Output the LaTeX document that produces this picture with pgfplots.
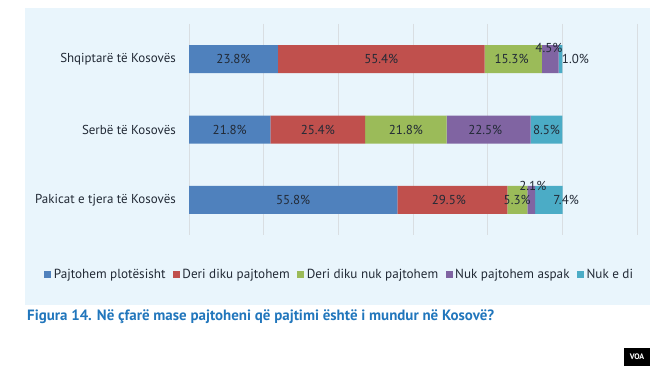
\documentclass[border=0pt]{standalone}
\usepackage{fontspec}
\setmainfont{PT Sans}
\usepackage{pgfplots}
\pgfplotsset{compat=1.18}
\definecolor{c1}{HTML}{4F81BD}
\definecolor{c2}{HTML}{C0504D}
\definecolor{c3}{HTML}{9BBB59}
\definecolor{c4}{HTML}{8064A2}
\definecolor{c5}{HTML}{4BACC6}
\definecolor{bgblue}{HTML}{E9F5FC}
\definecolor{gridgray}{HTML}{D9DEE2}
\definecolor{titleblue}{HTML}{2176BC}
\definecolor{txt}{HTML}{222A36}
\begin{document}
\begin{tikzpicture}[x=1bp,y=1bp]
\useasboundingbox (0,0) rectangle (650,366);
\fill[bgblue] (25,61) rectangle (650,358);
\begin{axis}[
  at={(189bp,342bp)}, anchor=north west,
  scale only axis, width=448bp, height=211bp,
  xbar stacked, bar width=28bp,
  xmin=0, xmax=120, ymin=-0.5, ymax=2.5, y dir=reverse,
  xtick={0,20,...,120}, xticklabels={},
  ytick={0,1,2},
  yticklabels={Shqiptarë të Kosovës, Serbë të Kosovës, Pakicat e tjera të Kosovës},
  y tick label style={font=\fontsize{13}{15}\selectfont, text=txt, inner sep=0pt, xshift=-13bp},
  xmajorgrids, grid style={gridgray, line width=0.8pt},
  axis line style={draw=none}, major tick length=0pt,
  legend style={at={(0.337,-0.188)}, anchor=center, draw=none, fill=none,
    legend columns=5, font=\fontsize{13.2}{15}\selectfont, text=txt,
    /tikz/every even column/.append style={column sep=5bp},
    nodes={inner xsep=2.5bp, inner ysep=1bp}},
  legend image code/.code={\fill[#1] (0bp,-3.5bp) rectangle (7bp,3.5bp);},
  clip=false,
]
\addplot[fill=c1, draw=none] coordinates {(23.8,0) (21.8,1) (55.8,2)};
\addplot[fill=c2, draw=none] coordinates {(55.4,0) (25.4,1) (29.5,2)};
\addplot[fill=c3, draw=none] coordinates {(15.3,0) (21.8,1) (5.3,2)};
\addplot[fill=c4, draw=none] coordinates {(4.5,0) (22.5,1) (2.1,2)};
\addplot[fill=c5, draw=none] coordinates {(1.0,0) (8.5,1) (7.4,2)};
\legend{Pajtohem plotësisht, Deri diku pajtohem, Deri diku nuk pajtohem, Nuk pajtohem aspak, Nuk e di}
\coordinate (a1) at (axis cs:11.9,0);
\coordinate (a2) at (axis cs:51.5,0);
\coordinate (a3) at (axis cs:86.4,0);
\coordinate (a4) at (axis cs:96.4,-0.16);
\coordinate (a5) at (axis cs:103.5,0);
\coordinate (b1) at (axis cs:10.9,1);
\coordinate (b2) at (axis cs:34.5,1);
\coordinate (b3) at (axis cs:58.1,1);
\coordinate (b4) at (axis cs:79.35,1);
\coordinate (b5) at (axis cs:95.75,1);
\coordinate (d1) at (axis cs:27.9,2);
\coordinate (d2) at (axis cs:69.6,2);
\coordinate (d3) at (axis cs:87.9,2);
\coordinate (d4) at (axis cs:92.1,1.8);
\coordinate (d5) at (axis cs:101.0,2);
\end{axis}
\begin{scope}[every node/.style={font=\fontsize{13}{15}\selectfont, text=txt, inner sep=0pt}]
\node at (a1) {23.8\%};
\node at (a2) {55.4\%};
\node at (a3) {15.3\%};
\node at (a4) {4.5\%};
\node at (a5) {1.0\%};
\node at (b1) {21.8\%};
\node at (b2) {25.4\%};
\node at (b3) {21.8\%};
\node at (b4) {22.5\%};
\node at (b5) {8.5\%};
\node at (d1) {55.8\%};
\node at (d2) {29.5\%};
\node at (d3) {5.3\%};
\node at (d4) {2.1\%};
\node at (d5) {7.4\%};
\end{scope}
\node[anchor=base west, inner sep=0pt, font=\bfseries\fontsize{15}{17}\selectfont, text=titleblue] at (27,46) {Figura 14. Në çfarë mase pajtoheni që pajtimi është i mundur në Kosovë?};
\fill[black] (624,0) rectangle (650,18);
\node[text=white, font=\bfseries\fontsize{8}{9}\selectfont, inner sep=0pt] at (637,9) {VOA};
\end{tikzpicture}
\end{document}
